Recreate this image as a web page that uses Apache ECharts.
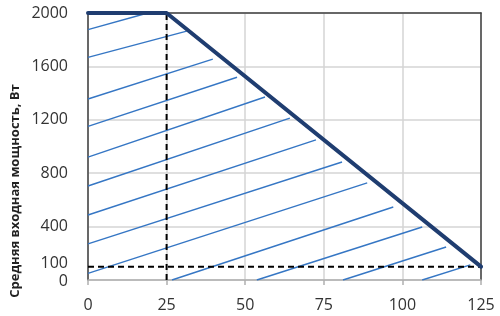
<!DOCTYPE html>
<html>
<head>
<meta charset="utf-8">
<script src="https://cdn.jsdelivr.net/npm/echarts@6/dist/echarts.min.js"></script>
<style>html,body{margin:0;padding:0;background:#fff}#c{width:500px;height:316px}</style>
</head>
<body>
<div id="c"></div>
<script>
// ---- data ----
const yTitle = 'Средняя входная мощность, Вт';
const xTicks = [0, 25, 50, 75, 100, 125];
const yTickLabels = [0, 100, 400, 800, 1200, 1600, 2000];
const limitX = [0, 25, 125];
const limitY = [2000, 2000, 100];
const dashVX = [25, 25];
const dashVY = [0, 2000];
const dashHX = [0, 125];
const dashHY = [100, 100];
const hatchStartX = [0, 0, 0, 0, 0, 0, 0, 0, 0, 26.7, 53.7, 81.1, 106.3];
const hatchStartY = [1875, 1668, 1356, 1151, 921, 704, 487, 270, 50, 0, 0, 0, 0];
const hatchEndX = [19, 31.4, 39.7, 47.4, 56.3, 64.2, 72.5, 80.8, 88.8, 97.1, 106.3, 113.9, 121.6];
const hatchEndY = [2000, 1864, 1655, 1519, 1371, 1213, 1049, 884, 727, 547, 397, 247, 113];

const zip = (xs, ys) => xs.map((x, i) => [x, ys[i]]);
const FONT = '"Open Sans", "DejaVu Sans", sans-serif';

const series = [];
hatchStartX.forEach((sx, i) => {
  series.push({
    type: 'line', silent: true, symbol: 'none', z: 2,
    data: [[sx, hatchStartY[i]], [hatchEndX[i], hatchEndY[i]]],
    lineStyle: { color: '#3576c4', width: 1.4 }
  });
});
series.push({
  type: 'line', silent: true, symbol: 'none', z: 3,
  data: zip(dashVX, dashVY),
  lineStyle: { color: '#000', width: 2, type: [6, 4] }
});
series.push({
  type: 'line', silent: true, symbol: 'none', z: 3,
  data: zip(dashHX, dashHY),
  lineStyle: { color: '#000', width: 2, type: [6, 4] }
});
series.push({
  type: 'line', silent: true, symbol: 'none', z: 5,
  data: zip(limitX, limitY),
  lineStyle: { color: '#1f3d70', width: 4, cap: 'round', join: 'round' }
});

const chart = echarts.init(document.getElementById('c'), null, { renderer: 'canvas' });
chart.setOption({
  animation: false,
  backgroundColor: '#fff',
  grid: { left: 88, right: 19, top: 13, bottom: 36, containLabel: false },
  xAxis: [{
    type: 'value', min: xTicks[0], max: xTicks[xTicks.length - 1], interval: 25,
    axisLine: { show: true, lineStyle: { color: '#b0b0b0', width: 1.5 } },
    axisTick: { show: true, inside: false, length: 5, lineStyle: { color: '#b0b0b0', width: 1.5 } },
    splitLine: { show: true, lineStyle: { color: '#d4d4d4', width: 1.5 } },
    axisLabel: { margin: 17, color: '#333', fontSize: 16, fontFamily: FONT }
  }, {
    type: 'value', position: 'top', min: 0, max: 125,
    axisLine: { show: true, onZero: false, lineStyle: { color: '#404040', width: 1.5 } },
    axisTick: { show: false }, axisLabel: { show: false }, splitLine: { show: false }
  }],
  yAxis: [{
    type: 'value', min: 0, max: 2000, interval: 400,
    axisLine: { show: true, lineStyle: { color: '#404040', width: 1.5 } },
    axisTick: { show: false },
    splitLine: { show: true, lineStyle: { color: '#d4d4d4', width: 1.5 } },
    axisLabel: {
      customValues: yTickLabels, margin: 20, color: '#333', fontSize: 16, fontFamily: FONT,
      formatter: v => v === 100 ? '{up|100}' : (v === 0 ? '{dn|0}' : String(v)),
      rich: {
        up: { fontSize: 16, fontFamily: FONT, color: '#333', padding: [0, 0, 7, 0] },
        dn: { fontSize: 16, fontFamily: FONT, color: '#333', padding: [3, 0, 0, 0] }
      }
    }
  }, {
    type: 'value', position: 'right', min: 0, max: 2000,
    axisLine: { show: true, onZero: false, lineStyle: { color: '#404040', width: 1.5 } },
    axisTick: { show: false }, axisLabel: { show: false }, splitLine: { show: false }
  }],
  graphic: [{
    type: 'text', x: 15, y: 191, rotation: Math.PI / 2,
    style: {
      text: yTitle, fill: '#222', font: 'bold 13px ' + FONT,
      align: 'center', verticalAlign: 'middle'
    }
  }],
  series: series
});
</script>
</body>
</html>
